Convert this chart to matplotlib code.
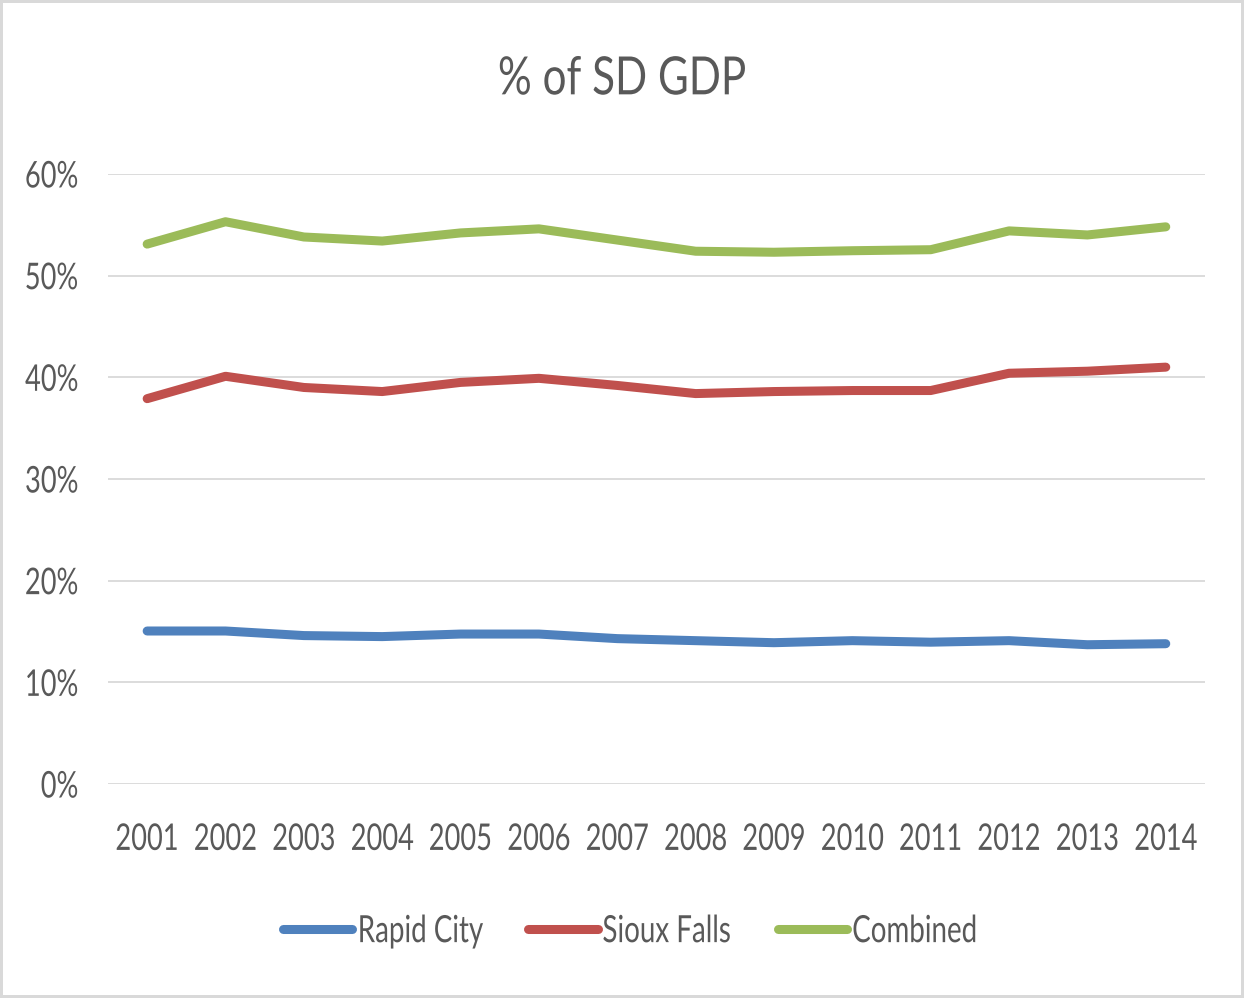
import matplotlib.pyplot as plt
from matplotlib.patheffects import AbstractPathEffect
from matplotlib.ticker import PercentFormatter
from matplotlib.transforms import Affine2D

# Datos del gráfico (porcentaje del PIB de SD)
years = ["2001", "2002", "2003", "2004", "2005", "2006", "2007",
         "2008", "2009", "2010", "2011", "2012", "2013", "2014"]
rapid_city = [15.05, 15.05, 14.6, 14.5, 14.75, 14.75, 14.3,
              14.1, 13.9, 14.1, 13.95, 14.1, 13.7, 13.8]
sioux_falls = [37.9, 40.1, 39.0, 38.6, 39.5, 39.9, 39.2,
               38.4, 38.6, 38.7, 38.7, 40.4, 40.6, 41.0]
combined = [53.1, 55.3, 53.8, 53.4, 54.2, 54.6, 53.5,
            52.4, 52.3, 52.45, 52.55, 54.4, 54.0, 54.8]


class Squeeze(AbstractPathEffect):
    """Comprime el texto en horizontal (imita la fuente estrecha del original)."""

    def __init__(self, sx, anchor="center"):
        super().__init__()
        self.sx = sx
        self.anchor = anchor

    def draw_path(self, renderer, gc, tpath, affine, rgbFace=None):
        ext = affine.transform_path(tpath).get_extents()
        cx = {"left": ext.x0, "right": ext.x1}.get(self.anchor, (ext.x0 + ext.x1) / 2)
        t = affine + Affine2D().translate(-cx, 0).scale(self.sx, 1).translate(cx, 0)
        renderer.draw_path(gc, tpath, t, rgbFace)


plt.rcParams["font.family"] = ["Lato", "DejaVu Sans"]
text_color = "#595959"
squeeze = 0.74

fig = plt.figure(figsize=(12.44, 9.98), dpi=100,
                 edgecolor="#d9d9d9", linewidth=4)
ax = fig.add_axes([0.0868, 0.2144, 0.8818, 0.6113])

x = range(len(years))
ax.plot(x, rapid_city, color="#4F81BD", lw=6.5, label="Rapid City", solid_capstyle="round")
ax.plot(x, sioux_falls, color="#C0504D", lw=6.5, label="Sioux Falls", solid_capstyle="round")
ax.plot(x, combined, color="#9BBB59", lw=6.5, label="Combined", solid_capstyle="round")

ax.set_xlim(-0.5, len(years) - 0.5)
ax.set_ylim(0, 60)
ax.set_yticks(range(0, 61, 10))
ax.yaxis.set_major_formatter(PercentFormatter(decimals=0))
ax.set_xticks(list(x))
ax.set_xticklabels(years)

ax.grid(axis="y", color="#d9d9d9", lw=1.3)
ax.set_axisbelow(True)
for side in ["top", "right", "left", "bottom"]:
    ax.spines[side].set_visible(False)
ax.tick_params(axis="both", length=0, labelsize=26.5, labelcolor=text_color)
ax.tick_params(axis="x", pad=28)
ax.tick_params(axis="y", pad=21)

for lbl in ax.get_xticklabels():
    lbl.set_path_effects([Squeeze(squeeze)])
for lbl in ax.get_yticklabels():
    lbl.set_path_effects([Squeeze(squeeze, "right")])

title = fig.text(0.5, 0.92, "% of SD GDP", ha="center", va="center",
                 fontsize=38, color=text_color)
title.set_path_effects([Squeeze(0.8)])

leg = fig.legend(loc="center", bbox_to_anchor=(0.524, 0.067), ncol=3, frameon=False,
                 fontsize=27, labelcolor=text_color, handlelength=1.85,
                 handletextpad=0.12, columnspacing=0.05)
for t in leg.get_texts():
    t.set_path_effects([Squeeze(squeeze, "left")])

fig.savefig("out.png", dpi=100, edgecolor=fig.get_edgecolor())
